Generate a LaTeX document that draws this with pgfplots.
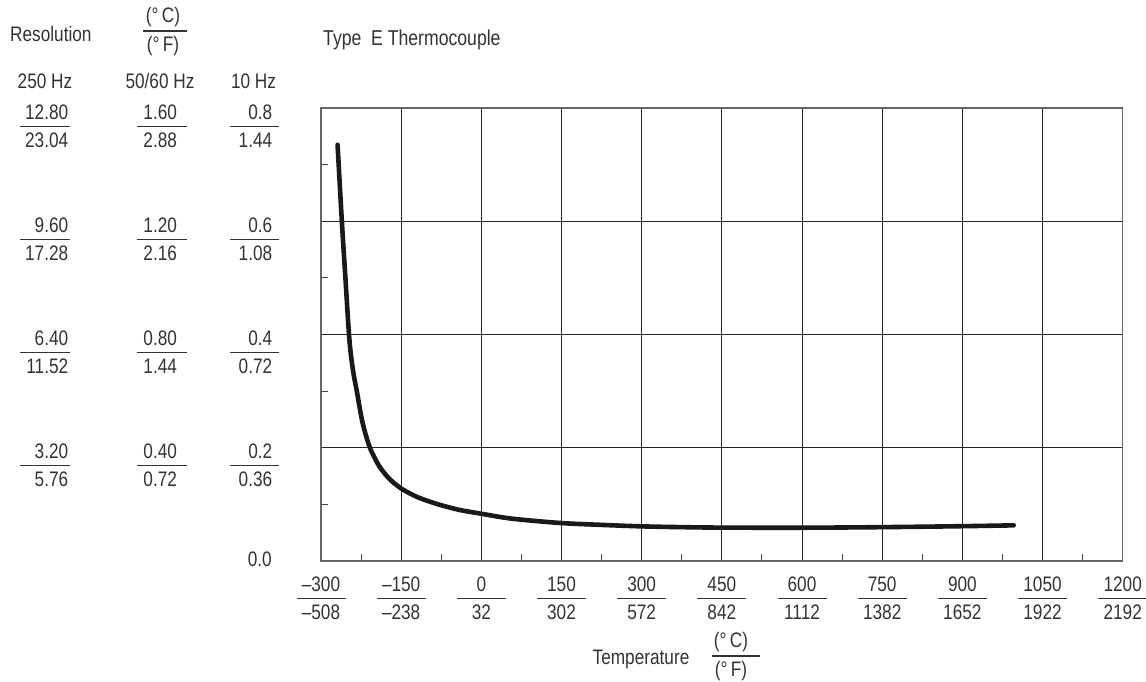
\documentclass[border=0pt]{standalone}
\usepackage{pgfplots}
\pgfplotsset{compat=1.18}
\usepackage{fontspec}
\setmainfont{Liberation Sans}[FakeStretch=0.82]
\definecolor{txt}{HTML}{333333}
\newcommand\frbox[4]{\vbox{\hbox to #1{#2{#3}}\kern6pt\hrule height 1.2pt\kern6pt\hbox to #1{#2{#4}}}}
\newcommand\AR[1]{\hss#1\kern2pt}
\newcommand\AC[1]{\hss#1\hss\kern4pt}
\newcommand\AT[1]{\hss#1\kern7pt}
\newcommand\AX[1]{\hss#1\hss}
\newcommand\xfr[2]{\frbox{49pt}{\AX}{#1}{#2}}
\newcommand\F{\fontsize{21}{25}\selectfont}
\begin{document}
\begin{tikzpicture}[every node/.style={font=\F, text=txt}]
\useasboundingbox (0pt,0pt) rectangle (1146pt,-681pt);
\begin{axis}[at={(321pt,-561pt)}, anchor=south west, scale only axis,
  width=801.7pt, height=453pt,
  xmin=-300, xmax=1200, ymin=0, ymax=0.8,
  xtick={-300,-150,...,1200},
  xticklabels={\xfr{–300}{–508},\xfr{–150}{–238},\xfr{0}{32},\xfr{150}{302},\xfr{300}{572},\xfr{450}{842},\xfr{600}{1112},\xfr{750}{1382},\xfr{900}{1652},\xfr{1050}{1922},\xfr{1200}{2192}},
  minor xtick={-225,-75,...,1125},
  ytick={0.2,0.4,0.6}, yticklabels={,,},
  minor ytick={0.1,0.3,0.5,0.7},
  tick align=inside, major tick length=0pt, minor tick length=7pt,
  xtick pos=bottom, ytick pos=left,
  grid=major, major grid style={black!85, line width=0.9pt},
  minor grid style={draw=none},
  axis line style={black!60, line width=1.4pt},
  minor tick style={black!75, line width=1pt},
  xticklabel style={anchor=north, inner sep=0pt, yshift=-16pt, font=\F, text=txt},
]
\addplot[line width=4.6pt, color=black!90, smooth, tension=0.55, line cap=round, line join=round] coordinates {
(-269,0.735) (-261,0.600) (-254,0.495) (-248,0.405) (-244,0.364) (-239,0.330)
(-233,0.300) (-224,0.252) (-216,0.222) (-208,0.199) (-199,0.181) (-190,0.166)
(-175,0.148) (-160,0.135) (-150,0.128) (-135,0.120) (-120,0.113) (-100,0.106)
(-77,0.099) (-40,0.090) (0,0.0835) (40,0.077) (75,0.073) (150,0.0670) (225,0.0638)
(300,0.0612) (375,0.0598) (450,0.0590) (600,0.0588) (750,0.0598) (900,0.0615) (996,0.0630)
};
\end{axis}
\foreach \g/\a/\b/\c/\d/\e/\f in {108/12.80/23.04/1.60/2.88/0.8/1.44, 221/9.60/17.28/1.20/2.16/0.6/1.08, 334/6.40/11.52/0.80/1.44/0.4/0.72, 447/3.20/5.76/0.40/0.72/0.2/0.36}{
  \node[anchor=north west, inner sep=0pt] at (20pt,{(3.5-\g)*1pt}) {\frbox{50pt}{\AR}{\a}{\b}};
  \node[anchor=north west, inner sep=0pt] at (137pt,{(3.5-\g)*1pt}) {\frbox{50pt}{\AC}{\c}{\d}};
  \node[anchor=north west, inner sep=0pt] at (230pt,{(3.5-\g)*1pt}) {\frbox{49pt}{\AT}{\e}{\f}};
}
\node[anchor=east, inner sep=0pt] at (272pt,-559pt) {0.0};
\node[anchor=base west, inner sep=0pt] at (10pt,-41pt) {Resolution};
\node[anchor=base, inner sep=0pt] at (45pt,-88pt) {250 Hz};
\node[anchor=base, inner sep=0pt] at (160pt,-88pt) {50/60 Hz};
\node[anchor=base, inner sep=0pt] at (253.5pt,-88pt) {10 Hz};
\node[inner sep=0pt] at (163pt,-17pt) {(°\,C)};
\draw[txt, line width=1.2pt] (143pt,-31pt) -- (187pt,-31pt);
\node[inner sep=0pt] at (163pt,-46pt) {(°\,F)};
\node[anchor=base west, inner sep=0pt] at (323pt,-45pt) {\fontsize{21.5}{25}\selectfont Type\ \ E Thermocouple};
\node[anchor=base, inner sep=0pt] at (641pt,-664pt) {Temperature};
\node[inner sep=0pt] at (731pt,-642pt) {(°\,C)};
\draw[txt, line width=1.2pt] (712pt,-656pt) -- (760pt,-656pt);
\node[inner sep=0pt] at (731pt,-671pt) {(°\,F)};
\end{tikzpicture}
\end{document}
